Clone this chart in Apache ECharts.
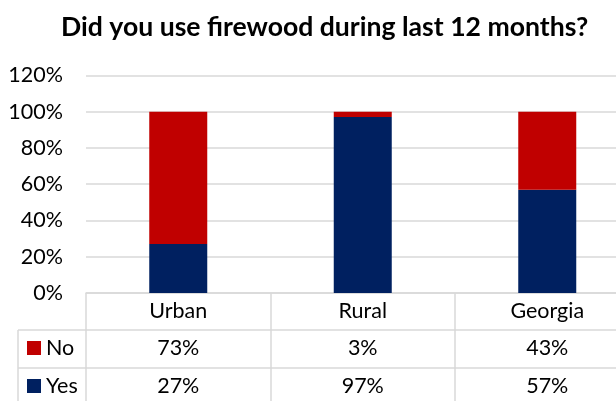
<!DOCTYPE html>
<html>
<head>
<meta charset="utf-8">
<script src="https://cdn.jsdelivr.net/npm/echarts@6/dist/echarts.min.js"></script>
<style>html,body{margin:0;padding:0;background:#fff;}#c{width:616px;height:401px;}</style>
</head>
<body>
<div id="c"></div>
<script>
const titleText = 'Did you use firewood during last 12 months?';
const categories = ['Urban', 'Rural', 'Georgia'];
const noValues = [73, 3, 43];
const yesValues = [27, 97, 57];
const yTicks = [0, 20, 40, 60, 80, 100, 120];

const FONT = 'Lato';
const GRID = '#d9d9d9';
const chart = echarts.init(document.getElementById('c'), null, {renderer: 'canvas'});

function rowAxis(offset, tickLen, fmt) {
  return {
    type: 'category', gridIndex: 0, position: 'bottom', offset: offset,
    data: categories,
    axisLine: {show: true, lineStyle: {color: GRID, width: 1.5}},
    axisTick: {show: true, inside: false, length: tickLen, alignWithLabel: false, interval: 0,
      lineStyle: {color: GRID, width: 1.5}},
    axisLabel: {show: true, interval: 0, margin: 7, fontFamily: FONT, fontSize: 21.5, color: '#000',
      formatter: fmt},
    splitLine: {show: false}
  };
}

chart.setOption({
  animation: false,
  title: {
    text: titleText, left: 56, top: 9,
    textStyle: {fontFamily: FONT, fontSize: 26.6, fontWeight: 'bold', color: '#000'}
  },
  legend: {
    data: ['No', 'Yes'], orient: 'vertical', left: 27, top: 337, padding: 0,
    icon: 'rect', itemWidth: 14, itemHeight: 14, itemGap: 16,
    textStyle: {fontFamily: FONT, fontSize: 21.5, lineHeight: 22, color: '#000'},
    selectedMode: false
  },
  grid: {left: 86, top: 75.4, width: 553.5, height: 217.6, containLabel: false, outerBoundsMode: 'none'},
  xAxis: [
    rowAxis(0, 37, (v) => v),
    rowAxis(37, 38, (v, i) => noValues[i] + '%'),
    rowAxis(75, 40, (v, i) => yesValues[i] + '%')
  ],
  yAxis: {
    type: 'value', min: yTicks[0], max: yTicks[yTicks.length - 1], interval: 20,
    axisLine: {show: false}, axisTick: {show: false},
    axisLabel: {formatter: '{value}%', fontFamily: FONT, fontSize: 21.5, color: '#000', margin: 23},
    splitLine: {lineStyle: {color: GRID, width: 1.5}}
  },
  series: [
    {name: 'Yes', type: 'bar', stack: 'a', data: yesValues, barWidth: 58, itemStyle: {color: '#002060'}},
    {name: 'No', type: 'bar', stack: 'a', data: noValues, barWidth: 58, itemStyle: {color: '#C00000'}}
  ],
  graphic: [
    {type: 'line', shape: {x1: 18, y1: 330, x2: 86, y2: 330}, style: {stroke: GRID, lineWidth: 1.5}},
    {type: 'line', shape: {x1: 18, y1: 368, x2: 86, y2: 368}, style: {stroke: GRID, lineWidth: 1.5}},
    {type: 'line', shape: {x1: 18, y1: 330, x2: 18, y2: 401}, style: {stroke: GRID, lineWidth: 1.5}}
  ]
});
</script>
</body>
</html>
